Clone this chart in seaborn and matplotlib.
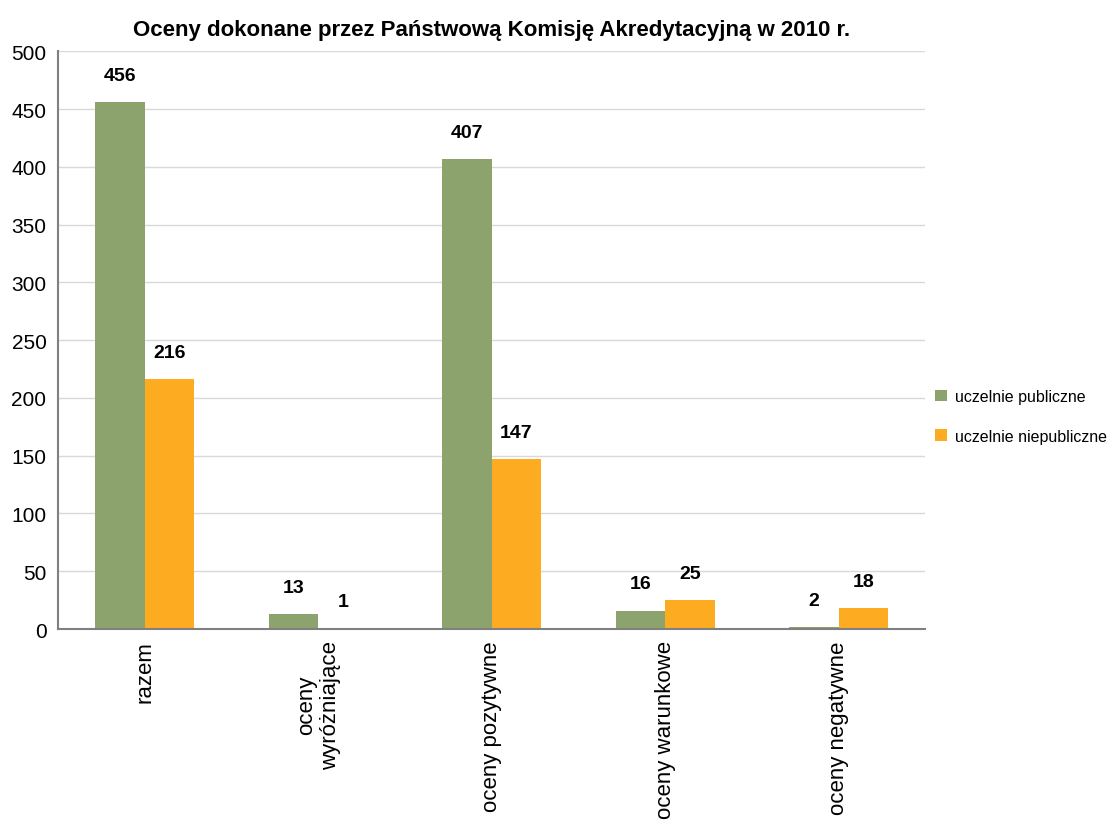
import matplotlib.pyplot as plt
import pandas as pd
import seaborn as sns

# dane
kategorie = ["razem", "oceny\nwyróżniające", "oceny pozytywne", "oceny warunkowe", "oceny negatywne"]
publiczne = [456, 13, 407, 16, 2]
niepubliczne = [216, 1, 147, 25, 18]
serie = ["uczelnie publiczne", "uczelnie niepubliczne"]
kolory = ["#8da36e", "#fdab21"]

df = pd.DataFrame({
    "kategoria": kategorie * 2,
    "seria": [serie[0]] * 5 + [serie[1]] * 5,
    "wartosc": publiczne + niepubliczne,
})

sns.set_style("white")
plt.rcParams['font.family'] = ['Liberation Sans', 'DejaVu Sans']
plt.rcParams['text.color'] = 'black'
plt.rcParams['xtick.color'] = 'black'
plt.rcParams['ytick.color'] = 'black'

fig = plt.figure(figsize=(11.19, 8.29), dpi=100)
ax = fig.add_axes([0.052, 0.24, 0.775, 0.697])

sns.barplot(data=df, x="kategoria", y="wartosc", hue="seria", palette=kolory,
            width=0.57, saturation=1, ax=ax, edgecolor="none")

for cont in ax.containers:
    ax.bar_label(cont, padding=13, fontsize=14, fontweight="bold")

ax.set_ylim(0, 500)
ax.set_xlim(-0.5, 4.5)
ax.set_yticks(range(0, 501, 50))
ax.yaxis.grid(True, color="#d9d9d9", linewidth=1)
ax.set_axisbelow(True)
ax.set_xlabel("")
ax.set_ylabel("")
ax.set_title("Oceny dokonane przez Państwową Komisję Akredytacyjną w 2010 r.",
             fontsize=16, fontweight="bold", pad=12)

for s in ["top", "right"]:
    ax.spines[s].set_visible(False)
ax.spines["left"].set_color("#808080")
ax.spines["bottom"].set_color("#808080")
ax.spines["left"].set_linewidth(1.5)
ax.spines["bottom"].set_linewidth(1.5)

ax.set_xticks([i + 0.5 for i in range(-1, 5)], minor=True)
ax.tick_params(axis="x", which="major", length=0, labelsize=16, rotation=90, pad=8)
ax.tick_params(axis="x", which="minor", length=6, color="#808080", width=1.5, direction="out")
ax.tick_params(axis="y", length=5, color="#808080", width=1.5, direction="out", labelsize=15)
for lab in ax.get_xticklabels():
    lab.set_verticalalignment("top")
    lab.set_horizontalalignment("center")
    lab.set_multialignment("center")

ax.legend(loc="center left", bbox_to_anchor=(1.005, 0.368), frameon=False, fontsize=11.5,
          handlelength=0.75, handleheight=0.75, handletextpad=0.5, labelspacing=1.55,
          borderaxespad=0.1, borderpad=0.2)

fig.savefig("out.png", dpi=100)
